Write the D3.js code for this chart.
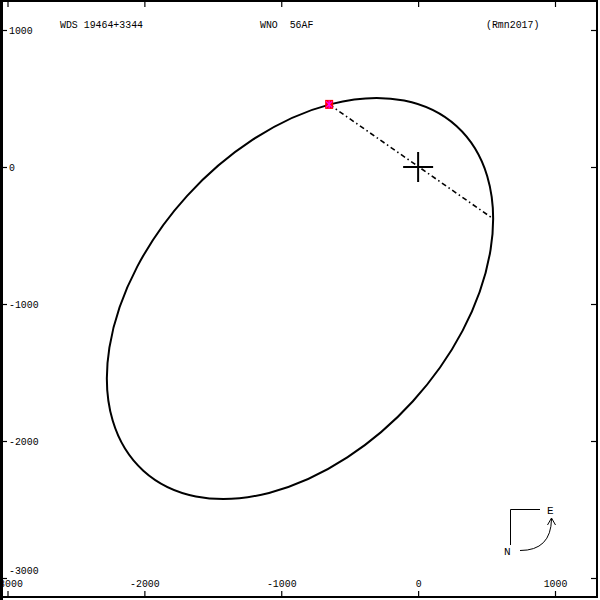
<!DOCTYPE html>
<html>
<head>
<meta charset="utf-8">
<script src="https://cdn.jsdelivr.net/npm/d3@7"></script>
<style>
  html, body { margin: 0; padding: 0; background: #fff; }
  svg { display: block; }
  text { font-family: "Liberation Mono", "DejaVu Sans Mono", monospace; font-size: 11px; fill: #000; }
</style>
</head>
<body>
<svg id="chart" width="600" height="600"></svg>
<script>
// ---- data (in axis units) ----
const titleLeft = "WDS 19464+3344";
const titleMid = "WNO  56AF";
const titleRight = "(Rmn2017)";
const xTicks = [-3000, -2000, -1000, 0, 1000];
const yTicks = [-3000, -2000, -1000, 0, 1000];
// apparent orbit: centre [x, y], semi-axes [major, minor], tilt of the major axis (deg, from +x towards +y)
const orbitCentre = [-863, -960];
const orbitAxes = [1701, 1114];
const orbitTilt = [47.7];
const markerPoint = [-650, 457];
const nodeLineX = [-650, 540];
const nodeLineY = [457, -372];
const centerPoint = [0, 0];

// ---- drawing ----
const svg = d3.select("#chart");
const x = d3.scaleLinear().domain([-3000, 1000]).range([7.5, 555]);
const y = d3.scaleLinear().domain([-3000, 1000]).range([578, 30]);
const fmt = d => String(d);
const CH = 5.93; // glyph advance in the reference

function fitText(sel) {
  sel.each(function () {
    const t = d3.select(this);
    const s = t.text();
    if (s.length) t.attr("textLength", s.length * CH).attr("lengthAdjust", "spacingAndGlyphs");
  });
}

// frame
svg.append("rect").attr("x", 1).attr("y", 1).attr("width", 596).attr("height", 596)
  .attr("fill", "none").attr("stroke", "#000").attr("stroke-width", 2);
svg.append("line").attr("x1", 1.5).attr("x2", 1.5).attr("y1", 0).attr("y2", 600)
  .attr("stroke", "#000").attr("stroke-width", 3);

function styleAxis(g) {
  g.select(".domain").remove();
  g.selectAll(".tick line").attr("stroke", "#000").attr("stroke-width", 1.2);
  g.selectAll(".tick text").attr("fill", "#000")
    .style("font-family", "'Liberation Mono', monospace").style("font-size", "11px")
    .call(fitText);
}
// left axis: labels inside the frame, right of each tick
const gl = svg.append("g")
  .call(d3.axisRight(y).tickValues(yTicks).tickFormat(fmt).tickSize(7).tickPadding(2));
styleAxis(gl);
gl.selectAll(".tick").filter(d => d === -3000).select("text").attr("dy", "-0.4em");
// bottom axis: labels above the ticks
const gb = svg.append("g").attr("transform", "translate(0,597)")
  .call(d3.axisTop(x).tickValues(xTicks).tickFormat(fmt).tickSize(6).tickPadding(4));
styleAxis(gb);
// top and right: ticks only
const gt = svg.append("g").attr("transform", "translate(0,1)")
  .call(d3.axisBottom(x).tickValues(xTicks).tickFormat("").tickSize(6));
styleAxis(gt);
const gr = svg.append("g").attr("transform", "translate(597,0)")
  .call(d3.axisLeft(y).tickValues(yTicks).tickFormat("").tickSize(6));
styleAxis(gr);

// titles
svg.append("text").attr("x", 60).attr("y", 28).style("white-space", "pre").text(titleLeft).call(fitText);
svg.append("text").attr("x", 260).attr("y", 28).style("white-space", "pre").text(titleMid).call(fitText);
svg.append("text").attr("x", 486).attr("y", 28).style("white-space", "pre").text(titleRight).call(fitText);

// orbit ellipse
const ocx = x(orbitCentre[0]), ocy = y(orbitCentre[1]);
svg.append("ellipse")
  .attr("cx", ocx).attr("cy", ocy)
  .attr("rx", x(orbitAxes[0]) - x(0)).attr("ry", y(0) - y(orbitAxes[1]))
  .attr("transform", `rotate(${-orbitTilt[0]},${ocx},${ocy})`)
  .attr("fill", "none").attr("stroke", "#000").attr("stroke-width", 2);

// line of nodes (dash-dot)
svg.append("line")
  .attr("x1", x(nodeLineX[0])).attr("y1", y(nodeLineY[0]))
  .attr("x2", x(nodeLineX[1])).attr("y2", y(nodeLineY[1]))
  .attr("stroke", "#000").attr("stroke-width", 1.6)
  .attr("stroke-dasharray", "5,3,1.5,3");

// primary star cross
const cx = x(centerPoint[0]), cy = y(centerPoint[1]);
svg.append("line").attr("x1", cx - 15).attr("x2", cx + 15).attr("y1", cy).attr("y2", cy)
  .attr("stroke", "#000").attr("stroke-width", 2);
svg.append("line").attr("x1", cx).attr("x2", cx).attr("y1", cy - 15).attr("y2", cy + 15)
  .attr("stroke", "#000").attr("stroke-width", 2);

// measurement marker
const mx = x(markerPoint[0]), my = y(markerPoint[1]);
svg.append("rect").attr("x", mx - 4).attr("y", my - 4.5).attr("width", 8).attr("height", 9)
  .attr("fill", "#ff0000");
svg.append("path")
  .attr("d", `M${mx - 3},${my - 3}L${mx + 3},${my + 3}M${mx - 3},${my + 3}L${mx + 3},${my - 3}M${mx},${my - 4}L${mx},${my + 4}`)
  .attr("stroke", "#ff00ff").attr("stroke-width", 1.2);

// compass
const comp = svg.append("g").attr("fill", "none").attr("stroke", "#000").attr("stroke-width", 1);
comp.append("path").attr("d", "M540,509.5H510.5V545");
comp.append("path").attr("d", "M520,550.5Q551,550.5 551.5,519");
comp.append("path").attr("d", "M547.5,525L551.5,518L555.5,525");
svg.append("text").attr("x", 547).attr("y", 514).text("E");
svg.append("text").attr("x", 504).attr("y", 555).text("N");
</script>
</body>
</html>
